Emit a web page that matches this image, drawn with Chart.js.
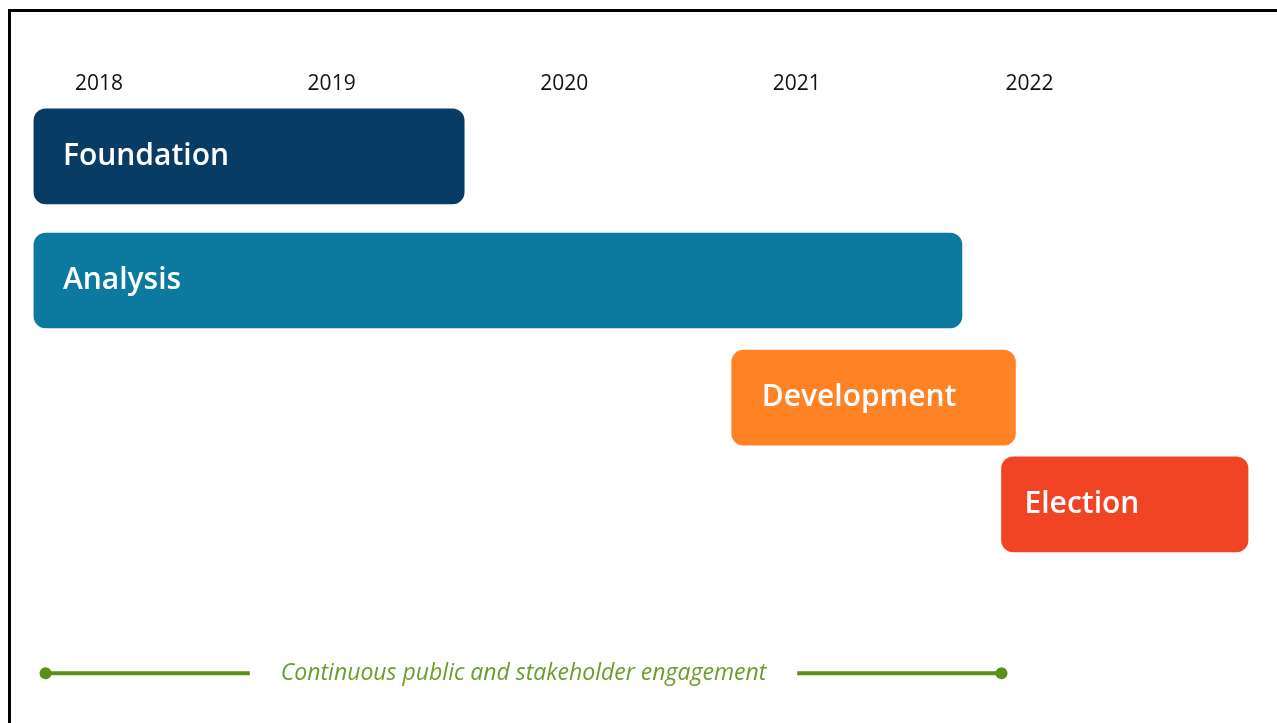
<!DOCTYPE html>
<html>
<head>
<meta charset="utf-8">
<title>Programme timeline</title>
<script src="https://cdn.jsdelivr.net/npm/chart.js@4.4.1/dist/chart.umd.min.js"></script>
<style>
  html, body { margin: 0; padding: 0; background: #ffffff; overflow: hidden; }
  #frame {
    position: absolute; left: 8px; top: 9px; width: 1400px; height: 900px;
    border-top: 3px solid #000; border-left: 3px solid #000;
  }
  #wrap { position: absolute; left: 0; top: 0; width: 1277px; height: 723px; }
</style>
</head>
<body>
<div id="frame"></div>
<div id="wrap"><canvas id="timeline" width="1277" height="723"></canvas></div>
<script>
// Programme phases (start / end in decimal years)
const phases     = ['Foundation', 'Analysis', 'Development', 'Election'];
const phaseStart = [2017.72, 2017.72, 2020.72, 2021.88];
const phaseEnd   = [2019.57, 2021.71, 2021.94, 2022.94];

// Year ticks along the top
const years = [2018, 2019, 2020, 2021, 2022];

// Ongoing engagement strand
const engagementLabel = 'Continuous public and stakeholder engagement';
const engagementStart = [2017.77];
const engagementEnd   = [2021.88];

// ---- layout & styling ----
const phaseColors = ['#093c64', '#0d799e', '#ff8324', '#f04425'];
const laneOf      = [0.45, 1.52, 2.53, 3.45];   // vertical lane of each phase row
const engagementLane = 4.905;
const labelInset  = [29, 29, 30, 23];
const green = '#5a8f18';
const greenText = '#6a9e2c';
const FONT = '"Open Sans", "Noto Sans", "DejaVu Sans", sans-serif';

const phaseLabels = {
  id: 'phaseLabels',
  afterDatasetsDraw(chart) {
    const ctx = chart.ctx;
    const meta = chart.getDatasetMeta(0);
    ctx.save();
    ctx.fillStyle = '#ffffff';
    ctx.font = '600 30px ' + FONT;
    ctx.textBaseline = 'middle';
    ctx.textAlign = 'left';
    meta.data.forEach((bar, i) => {
      const left = Math.min(bar.x, bar.base);
      ctx.fillText(phases[i], left + labelInset[i], bar.y);
    });
    ctx.restore();
  }
};

const engagementText = {
  id: 'engagementText',
  afterDatasetsDraw(chart) {
    const ctx = chart.ctx;
    const xs = chart.scales.x, ys = chart.scales.y;
    const x1 = xs.getPixelForValue(engagementStart[0]);
    const x2 = xs.getPixelForValue(engagementEnd[0]);
    const y = ys.getPixelForValue(engagementLane);
    const cx = (x1 + x2) / 2;
    ctx.save();
    ctx.font = 'italic 400 23px ' + FONT;
    const w = ctx.measureText(engagementLabel).width;
    ctx.fillStyle = '#ffffff';
    ctx.fillRect(cx - w / 2 - 31, y - 6, w + 62, 12);
    ctx.fillStyle = greenText;
    ctx.textAlign = 'center';
    ctx.textBaseline = 'middle';
    ctx.fillText(engagementLabel, cx, y);
    ctx.restore();
  }
};

new Chart(document.getElementById('timeline'), {
  type: 'bar',
  data: {
    datasets: [
      {
        type: 'bar',
        indexAxis: 'y',
        data: phases.map((p, i) => ({ x: [phaseStart[i], phaseEnd[i]], y: laneOf[i] })),
        backgroundColor: phaseColors,
        borderRadius: 12,
        borderSkipped: false,
        barThickness: 95
      },
      {
        type: 'line',
        data: [
          { x: engagementStart[0], y: engagementLane },
          { x: engagementEnd[0], y: engagementLane }
        ],
        borderColor: green,
        borderWidth: 4,
        pointRadius: 6,
        pointBackgroundColor: green,
        pointBorderWidth: 0,
        fill: false
      }
    ]
  },
  options: {
    responsive: false,
    devicePixelRatio: 1,
    animation: false,
    layout: { padding: { top: 63, left: 4.5, right: 15, bottom: 13 } },
    plugins: { legend: { display: false }, tooltip: { enabled: false } },
    scales: {
      x: {
        type: 'linear',
        position: 'top',
        offset: false,
        min: 2017.6,
        max: 2023,
        grid: { display: false, drawTicks: false, offset: false },
        border: { display: false },
        afterBuildTicks: axis => { axis.ticks = years.map(v => ({ value: v })); },
        ticks: {
          padding: 8,
          color: '#111111',
          font: { family: FONT, size: 21 },
          callback: v => String(v)
        }
      },
      y: {
        type: 'linear',
        reverse: true,
        offset: false,
        min: 0,
        max: 5.222,
        grid: { offset: false },
        display: false
      }
    }
  },
  plugins: [phaseLabels, engagementText]
});
</script>
</body>
</html>
